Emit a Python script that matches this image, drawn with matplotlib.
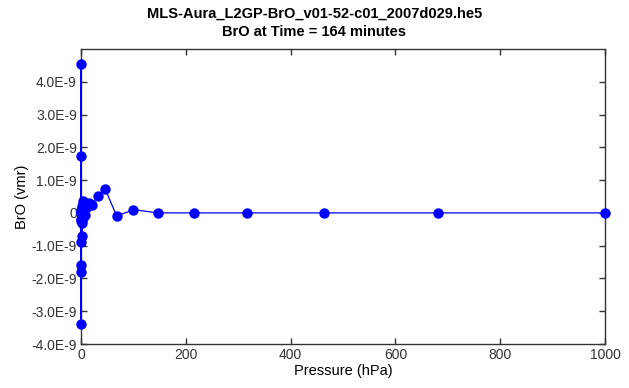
import numpy as np
import matplotlib.pyplot as plt
from matplotlib.ticker import FixedLocator, FuncFormatter

plt.rcParams['font.family'] = ['Liberation Sans', 'DejaVu Sans']

# pressure levels (hPa) and BrO values (vmr)
pressure = [1000, 681.3, 464.2, 316.2, 215.4, 146.8, 100, 68.1, 46.4, 31.6,
            21.5, 14.7, 10, 6.8, 4.6, 3.2, 2.2, 1.5, 1.0, 0.68,
            0.46, 0.32, 0.22, 0.15, 0.1, 0.068, 0.046, 0.032, 0.022, 0.015]
bro = [0.0, 0.0, 0.0, 0.0, 0.0, 0.0, 0.1e-9, -0.1e-9, 0.72e-9, 0.52e-9,
       0.25e-9, 0.3e-9, 0.15e-9, -0.05e-9, 0.35e-9, -0.15e-9, -0.3e-9, -0.7e-9, 0.2e-9, -0.9e-9,
       1.75e-9, -1.6e-9, 4.55e-9, -3.4e-9, -1.8e-9, 0.0, -0.2e-9, 0.1e-9, 0.0, -0.25e-9]

yticks = [-4e-9, -3e-9, -2e-9, -1e-9, 0, 1e-9, 2e-9, 3e-9, 4e-9]


def fmt(v, pos):
    if abs(v) < 1e-15:
        return '0'
    return '%.1fE-9' % (v * 1e9)


fig = plt.figure(figsize=(6.29, 3.88), dpi=100)
ax = fig.add_axes([81 / 629, 1 - 344 / 388, 524 / 629, 295 / 388])

ax.plot(pressure, bro, '-o', color='#0000ff', lw=0.9, markersize=7.5,
        markeredgewidth=0, clip_on=False, zorder=3)

ax.set_xlim(0, 1000)
ax.set_ylim(-4e-9, 5e-9)
ax.set_xticks([0, 200, 400, 600, 800, 1000])
ax.yaxis.set_major_locator(FixedLocator(yticks))
ax.yaxis.set_major_formatter(FuncFormatter(fmt))

for s in ax.spines.values():
    s.set_color('#333333')
    s.set_linewidth(1.0)
ax.tick_params(direction='in', length=4, width=1, color='#333333',
               top=True, right=True, labelsize=10, labelcolor='#333333', pad=3)

ax.set_xlabel('Pressure (hPa)', fontsize=10.5, labelpad=1)
ax.set_ylabel('BrO (vmr)', fontsize=10.5, labelpad=2)

fig.text(0.5, 1 - 14 / 388, 'MLS-Aura_L2GP-BrO_v01-52-c01_2007d029.he5',
         ha='center', va='center', fontsize=10.5, fontweight='bold')
fig.text(0.5, 1 - 32 / 388, 'BrO at Time = 164 minutes',
         ha='center', va='center', fontsize=10.5, fontweight='bold')

fig.savefig('out.png', dpi=100)
